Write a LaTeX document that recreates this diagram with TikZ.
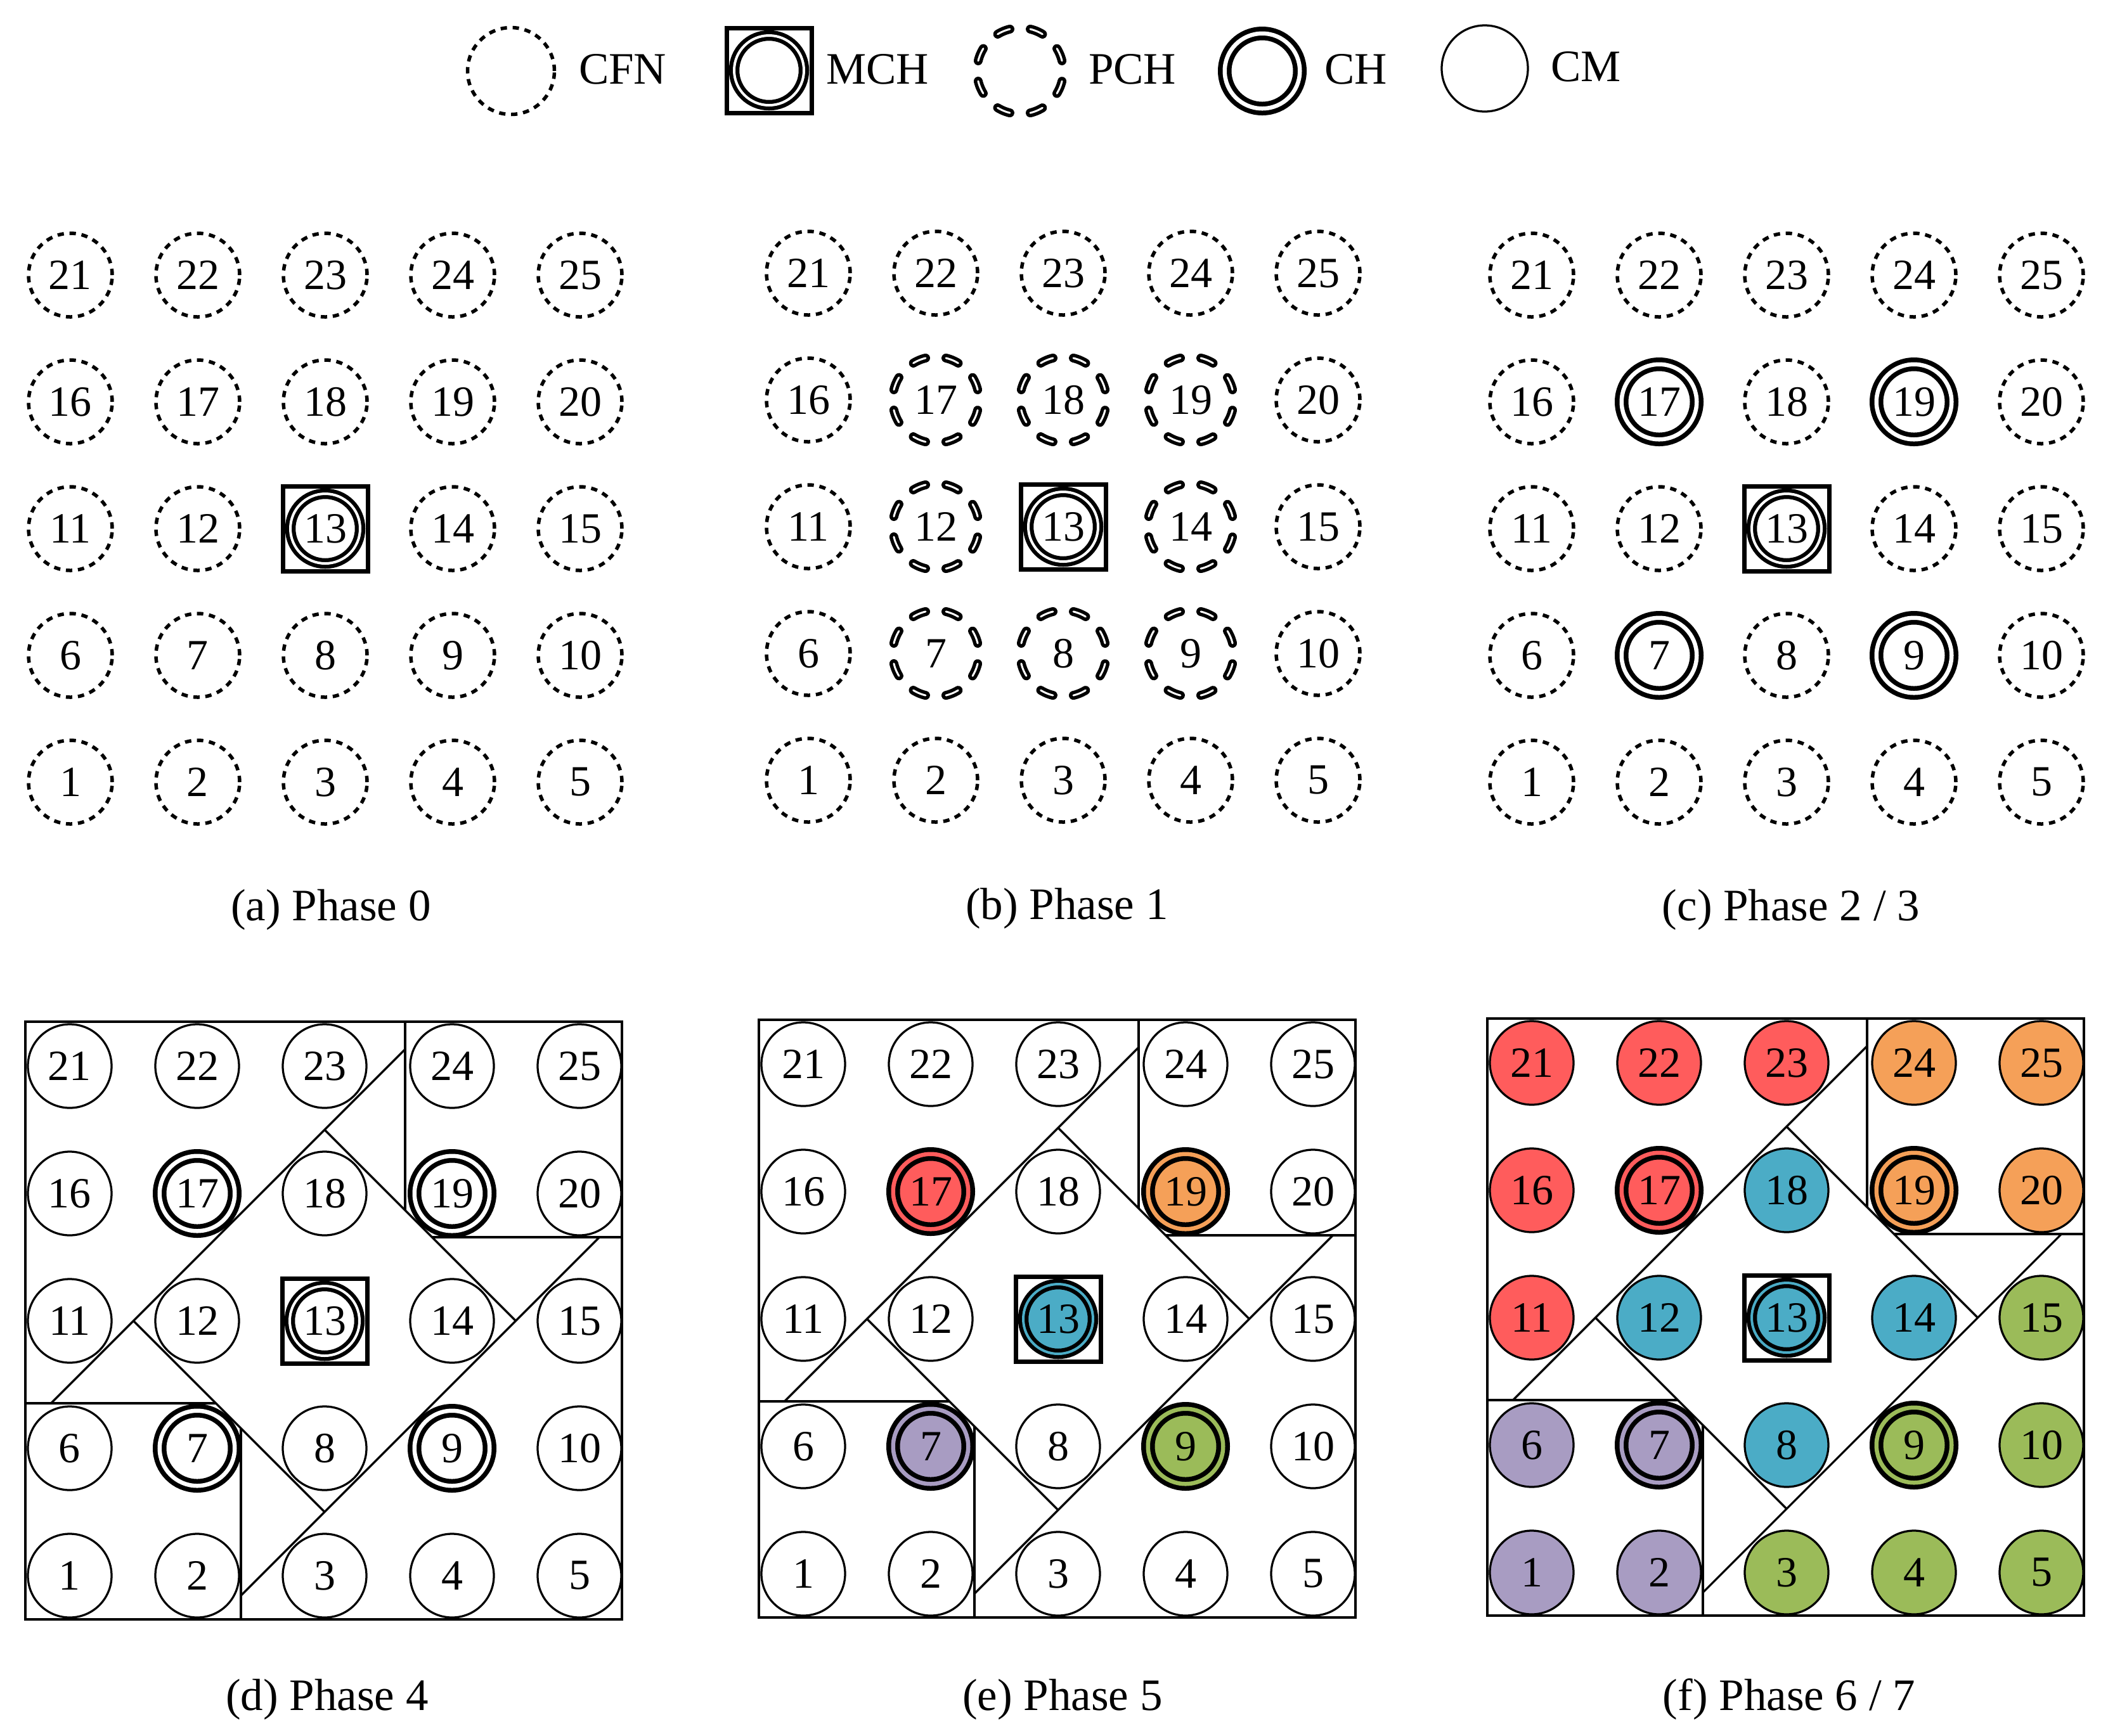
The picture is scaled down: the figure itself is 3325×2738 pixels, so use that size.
\documentclass[tikz,border=0pt]{standalone}
\usepackage{fontspec}
\setmainfont{Liberation Serif}
\definecolor{cred}{RGB}{255,92,92}
\definecolor{corange}{RGB}{245,160,88}
\definecolor{cblue}{RGB}{75,172,198}
\definecolor{cgreen}{RGB}{155,187,89}
\definecolor{cpurple}{RGB}{168,156,194}
\newcommand\nodefont{\fontsize{13.6}{16}\selectfont}
\newcommand\capfont{\fontsize{14.2}{17}\selectfont}
\tikzset{
  nbase/.style={circle, inner sep=0pt, font=\nodefont, text=black},
  cfnnode/.style={nbase, draw, line width=1.1pt, dash pattern=on 2pt off 1.8pt, minimum size=26.4pt},
  cmnode/.style={nbase, draw, line width=0.65pt, minimum size=26.4pt, fill=white},
  pchnode/.style={nbase, draw, line width=1.1pt, double=white, double distance=0.6pt,
    line cap=round, dash pattern=on 4.2pt off 6.48pt, dash phase=7.44pt, minimum size=27.2pt},
  chnode/.style={nbase, draw, line width=1.5pt, double=#1, double distance=1.3pt, fill=#1, minimum size=23.7pt},
  chnode/.default=white,
  mchnode/.style={nbase, draw, line width=1.25pt, double=#1, double distance=0.8pt, fill=#1, minimum size=22pt},
  mchnode/.default=white,
  mchsq/.style={rectangle, draw, line width=1.4pt, minimum size=26.8pt, inner sep=0pt},
  region/.style={line width=0.65pt, line join=miter},
  captext/.style={font=\capfont, anchor=base, inner sep=0pt},
  legtext/.style={font=\capfont, anchor=base west, inner sep=0pt},
}
% grid node: #1 prefix, #2 number, #3 style, #4 cx, #5 cy, #6 vertical spacing
\newcommand\gnode[6]{%
  \pgfmathtruncatemacro\gcc{mod(#2-1,5)-2}%
  \pgfmathtruncatemacro\grr{2-div(#2-1,5)}%
  \node[#3] (#1#2) at ({#4+\gcc*201},{#5+\grr*#6}) {#2};%
}
% region partition lines: #1 cx, #2 cy, #3 bottom offset
\newcommand\regionlines[3]{%
  \begin{scope}[shift={(#1,#2)}, region]
    \draw (-472,-472) rectangle (469,#3);
    \draw (127,-472) -- (127,-174.5);
    \draw (169.5,-132) -- (469,-132);
    \draw (127,-428.5) -- (-431.5,130);
    \draw (0,-301.5) -- (301.5,0);
    \draw (433.5,-132) -- (-132,433.5);
    \draw (-301.5,0) -- (0,301.5);
    \draw (-472,130) -- (-171.5,130);
    \draw (-132,169.5) -- (-132,#3);
  \end{scope}%
}
\begin{document}
\begin{tikzpicture}[x=0.2pt, y=-0.2pt]
\useasboundingbox (0,0) rectangle (3325,2738);

% ---------------- legend ----------------
\node[cfnnode, minimum size=27.4pt] (lcfn) at (806,112) {};
\node[legtext] (tcfn) at (912,132) {CFN};
\node[mchnode] (lmch) at (1213,111) {};
\node[mchsq] (lmchsq) at (1213,111) {};
\node[legtext] (tmch) at (1302,132) {MCH};
\node[pchnode] (lpch) at (1609,112) {};
\node[legtext] (tpch) at (1716,132) {PCH};
\node[chnode] (lch) at (1991,112) {};
\node[legtext] (tch) at (2088,132) {CH};
\node[cmnode, minimum size=27.2pt] (lcm) at (2342,108) {};
\node[legtext] (tcm) at (2445,128) {CM};

% ---------------- (a) Phase 0 ----------------
\foreach \k in {1,...,12,14,15,...,25} {\gnode{a}{\k}{cfnnode}{513}{834}{200}}
\gnode{a}{13}{mchnode}{513}{834}{200}
\node[mchsq] (a13sq) at (a13) {};
\node[captext] (capa) at (522,1452) {(a) Phase 0};

% ---------------- (b) Phase 1 ----------------
\foreach \k in {1,...,6,10,11,15,16,20,21,...,25} {\gnode{b}{\k}{cfnnode}{1677}{831}{200}}
\foreach \k in {7,8,9,12,14,17,18,19} {\gnode{b}{\k}{pchnode}{1677}{831}{200}}
\gnode{b}{13}{mchnode}{1677}{831}{200}
\node[mchsq] (b13sq) at (b13) {};
\node[captext] (capb) at (1683,1450) {(b) Phase 1};

% ---------------- (c) Phase 2 / 3 ----------------
\foreach \k in {1,...,6,8,10,11,12,14,15,16,18,20,21,...,25} {\gnode{c}{\k}{cfnnode}{2818}{834}{200}}
\foreach \k in {7,9,17,19} {\gnode{c}{\k}{chnode}{2818}{834}{200}}
\gnode{c}{13}{mchnode}{2818}{834}{200}
\node[mchsq] (c13sq) at (c13) {};
\node[captext] (capc) at (2825,1452) {(c) Phase 2 / 3};

% ---------------- (d) Phase 4 ----------------
\regionlines{512}{2084}{471}
\foreach \k in {1,...,6,8,10,11,12,14,15,16,18,20,21,...,25} {\gnode{d}{\k}{cmnode}{512}{2084}{201}}
\foreach \k in {7,9,17,19} {\gnode{d}{\k}{chnode}{512}{2084}{201}}
\gnode{d}{13}{mchnode}{512}{2084}{201}
\node[mchsq] (d13sq) at (d13) {};
\node[captext] (capd) at (516,2698) {(d) Phase 4};

% ---------------- (e) Phase 5 ----------------
\regionlines{1669}{2081}{471}
\foreach \k in {1,...,6,8,10,11,12,14,15,16,18,20,21,...,25} {\gnode{e}{\k}{cmnode}{1669}{2081}{201}}
\gnode{e}{7}{chnode=cpurple}{1669}{2081}{201}
\gnode{e}{9}{chnode=cgreen}{1669}{2081}{201}
\gnode{e}{17}{chnode=cred}{1669}{2081}{201}
\gnode{e}{19}{chnode=corange}{1669}{2081}{201}
\gnode{e}{13}{mchnode=cblue}{1669}{2081}{201}
\node[mchsq] (e13sq) at (e13) {};
\node[captext] (cape) at (1676,2698) {(e) Phase 5};

% ---------------- (f) Phase 6 / 7 ----------------
\regionlines{2818}{2079}{470}
\foreach \k/\c in {1/cpurple,2/cpurple,6/cpurple,3/cgreen,4/cgreen,5/cgreen,10/cgreen,15/cgreen,
  8/cblue,12/cblue,14/cblue,18/cblue,11/cred,16/cred,21/cred,22/cred,23/cred,
  20/corange,24/corange,25/corange} {\gnode{f}{\k}{cmnode, fill=\c}{2818}{2079}{201}}
\gnode{f}{7}{chnode=cpurple}{2818}{2079}{201}
\gnode{f}{9}{chnode=cgreen}{2818}{2079}{201}
\gnode{f}{17}{chnode=cred}{2818}{2079}{201}
\gnode{f}{19}{chnode=corange}{2818}{2079}{201}
\gnode{f}{13}{mchnode=cblue}{2818}{2079}{201}
\node[mchsq] (f13sq) at (f13) {};
\node[captext] (capf) at (2822,2698) {(f) Phase 6 / 7};
\end{tikzpicture}
\end{document}
